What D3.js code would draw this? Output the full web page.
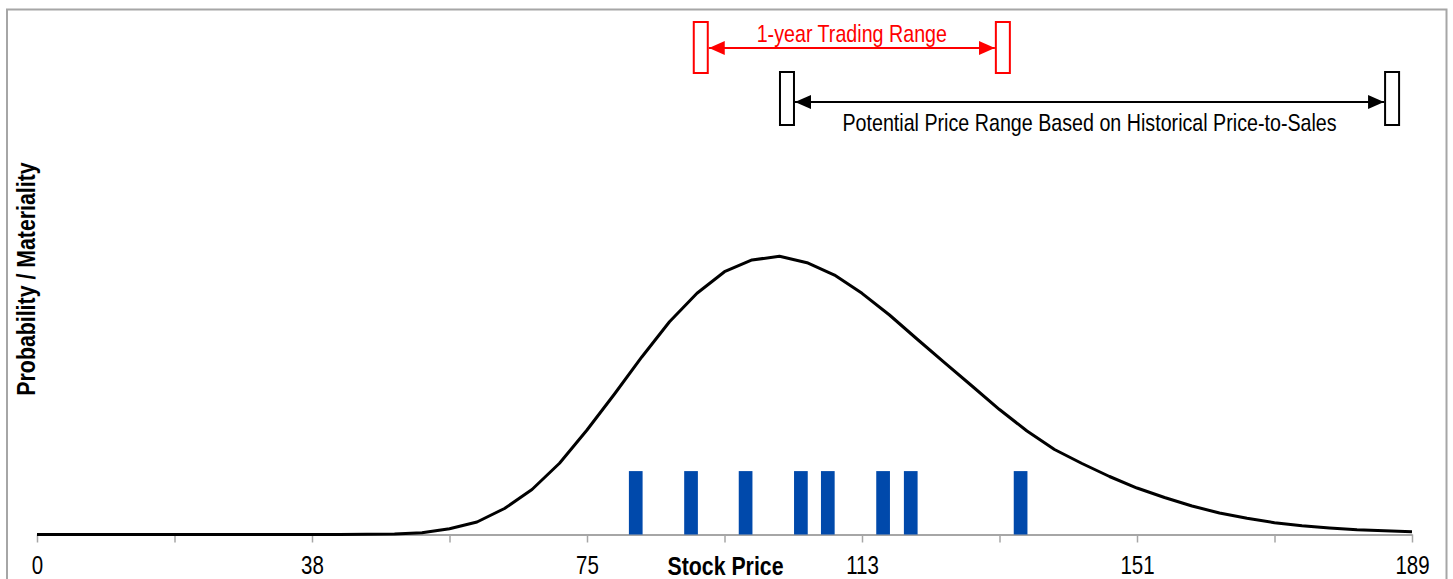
<!DOCTYPE html>
<html>
<head>
<meta charset="utf-8">
<script src="https://cdn.jsdelivr.net/npm/d3@7"></script>
<style>
  html, body { margin: 0; padding: 0; background: #fff; }
  svg { display: block; }
  text { font-family: "Liberation Sans Narrow", "Arial Narrow", "Liberation Sans", Arial, sans-serif; }
</style>
</head>
<body>
<svg id="chart" width="1453" height="579"></svg>
<script>
// ---------- DATA ----------
const prices = [0,3.78,7.56,11.34,15.12,18.9,22.68,26.46,30.24,34.02,37.8,41.58,45.36,49.14,52.92,56.7,60.48,64.26,68.04,71.82,75.6,79.38,83.16,86.94,90.72,94.5,98.28,102.06,105.84,109.62,113.4,117.18,120.96,124.74,128.52,132.3,136.08,139.86,143.64,147.42,151.2,154.98,158.76,162.54,166.32,170.1,173.88,177.66,181.44,185.22,189];
const probability = [0,0,0,0,0,0,0,0,0,0.01,0.01,0.02,0.04,0.1,0.32,1.1,2.39,4.96,8.59,13.59,19.94,26.81,33.93,40.61,46.03,50.15,52.39,53.09,51.87,49.52,46.03,41.89,37.31,32.82,28.34,23.85,19.75,16.22,13.55,11.07,8.87,7.06,5.44,4.10,3.09,2.25,1.66,1.24,0.90,0.71,0.53];
const observedPrices = [82.3, 89.9, 97.4, 105.0, 108.7, 116.3, 120.1, 135.2];
const observedHeight = [12.1, 12.1, 12.1, 12.1, 12.1, 12.1, 12.1, 12.1];
const tickValues = [0,18.9,37.8,56.7,75.6,94.5,113.4,132.3,151.2,170.1,189];
const tickLabels = ["0","","38","","75","","113","","151","","189"];
const tradingRange = [92.2, 131.8];
const potentialRange = [104.05, 185.3];
const tradingLabel = "1-year Trading Range";
const potentialLabel = "Potential Price Range Based on Historical Price-to-Sales";
const xTitle = "Stock Price";
const yTitle = "Probability / Materiality";

// ---------- LAYOUT ----------
const NARROW = 0.82; // emulate a narrow sans font
const svg = d3.select("#chart");
const x = d3.scaleLinear().domain([0, 189]).range([37, 1412]);
const y = d3.scaleLinear().domain([0, 100]).range([534.5, 10.5]);

// frame
svg.append("rect")
  .attr("x", 7).attr("y", 9.5).attr("width", 1439.5).attr("height", 600)
  .attr("fill", "none").attr("stroke", "#a6a6a6").attr("stroke-width", 2);

// x axis
const axis = d3.axisBottom(x)
  .tickValues(tickValues)
  .tickFormat((d, i) => tickLabels[i])
  .tickSize(8)
  .tickSizeOuter(0)
  .tickPadding(14);
const gx = svg.append("g").attr("transform", `translate(0,${y(0)})`).call(axis);
gx.select(".domain").attr("stroke", "#a6a6a6").attr("stroke-width", 2);
gx.selectAll(".tick line").attr("stroke", "#a6a6a6").attr("stroke-width", 1.5);
gx.selectAll(".tick text")
  .attr("font-size", 25).attr("fill", "#000")
  .attr("transform", `scale(${NARROW},1)`)
  .style("font-family", '"Liberation Sans Narrow", "Arial Narrow", "Liberation Sans", Arial, sans-serif');

// axis titles
svg.append("text")
  .attr("transform", `translate(725.5,575) scale(${NARROW},1)`)
  .attr("text-anchor", "middle").attr("font-size", 26).attr("font-weight", "bold")
  .text(xTitle);
svg.append("text")
  .attr("transform", `translate(35,279) rotate(-90) scale(${NARROW},1)`)
  .attr("text-anchor", "middle").attr("font-size", 26).attr("font-weight", "bold")
  .text(yTitle);

// bars
const barW = 13.7;
svg.append("g").selectAll("rect")
  .data(observedPrices)
  .join("rect")
  .attr("x", d => x(d) - barW / 2)
  .attr("y", (d, i) => y(observedHeight[i]))
  .attr("width", barW)
  .attr("height", (d, i) => y(0) - y(observedHeight[i]))
  .attr("fill", "#0049ab");

// curve
const line = d3.line()
  .x((d, i) => x(prices[i]))
  .y(d => y(d))
  .curve(d3.curveLinear);
svg.append("path")
  .datum(probability)
  .attr("d", line)
  .attr("fill", "none")
  .attr("stroke", "#000")
  .attr("stroke-width", 3)
  .attr("stroke-linejoin", "round");

// arrow markers
const defs = svg.append("defs");
function marker(id, color) {
  defs.append("marker")
    .attr("id", id)
    .attr("viewBox", "0 0 16 14")
    .attr("refX", 16).attr("refY", 7)
    .attr("markerUnits", "userSpaceOnUse")
    .attr("markerWidth", 16).attr("markerHeight", 14)
    .attr("orient", "auto-start-reverse")
    .append("path").attr("d", "M0,0 L16,7 L0,14 Z").attr("fill", color);
}
marker("arrRed", "#ff0000");
marker("arrBlack", "#000");

function rangeAnnotation(range, color, markerId, boxTop, boxH, lineY, label, labelY) {
  const g = svg.append("g");
  const bw = 14;
  g.append("rect").attr("x", x(range[0]) - bw).attr("y", boxTop).attr("width", bw).attr("height", boxH)
    .attr("fill", "#fff").attr("stroke", color).attr("stroke-width", 2);
  g.append("rect").attr("x", x(range[1])).attr("y", boxTop).attr("width", bw).attr("height", boxH)
    .attr("fill", "#fff").attr("stroke", color).attr("stroke-width", 2);
  g.append("line")
    .attr("x1", x(range[0]) + 1).attr("x2", x(range[1]) - 1)
    .attr("y1", lineY).attr("y2", lineY)
    .attr("stroke", color).attr("stroke-width", 2)
    .attr("marker-start", `url(#${markerId})`)
    .attr("marker-end", `url(#${markerId})`);
  const cx = (x(range[0]) + x(range[1])) / 2;
  g.append("text")
    .attr("transform", `translate(${cx},${labelY}) scale(${NARROW},1)`)
    .attr("text-anchor", "middle").attr("font-size", 24).attr("fill", color)
    .text(label);
}
rangeAnnotation(tradingRange, "#ff0000", "arrRed", 22, 51, 48, tradingLabel, 42);
rangeAnnotation(potentialRange, "#000", "arrBlack", 72, 53, 102, potentialLabel, 131);
</script>
</body>
</html>
